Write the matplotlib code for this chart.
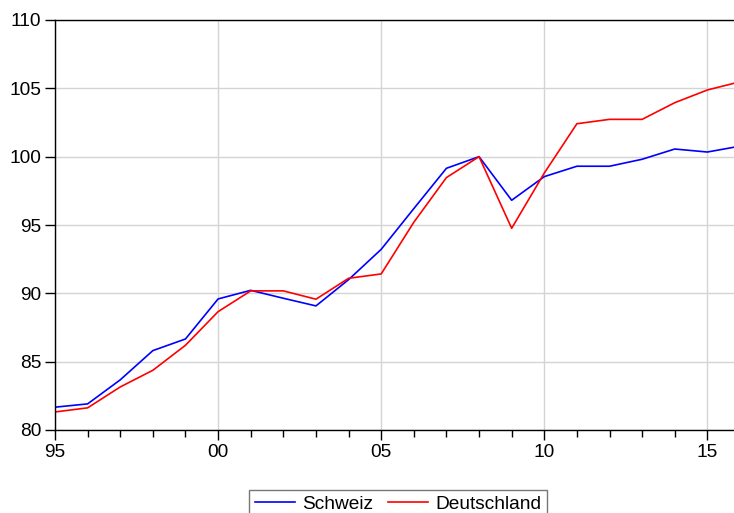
import numpy as np
import matplotlib.pyplot as plt
from matplotlib.ticker import MultipleLocator, FixedLocator

plt.rcParams['font.family'] = ['Liberation Sans', 'DejaVu Sans']

# Data (index, 2008 = 100)
years = list(range(1995, 2017))
schweiz = [81.67, 81.91, 83.67, 85.81, 86.66, 89.59, 90.22, 89.64, 89.08, 91.0,
           93.22, 96.2, 99.15, 100.0, 96.81, 98.54, 99.3, 99.3, 99.81, 100.56,
           100.34, 100.77]
deutschland = [81.32, 81.62, 83.15, 84.37, 86.2, 88.66, 90.18, 90.18, 89.57, 91.1,
               91.42, 95.2, 98.47, 100.0, 94.76, 98.8, 102.41, 102.73, 102.73, 103.95,
               104.88, 105.48]
tick_years = [1995, 2000, 2005, 2010, 2015]
tick_labels = ["95", "00", "05", "10", "15"]

W, H = 734, 513
fs = 13.8
fig = plt.figure(figsize=(W / 100, H / 100), dpi=100)
# axes spans from x=55 to x=740 (right end beyond the figure), y=20 to y=430
ax = fig.add_axes([55 / W, (H - 430) / H, (740 - 55) / W, (430 - 20) / H])

ax.plot(years, schweiz, color="#0000ff", lw=1.2, label="Schweiz")
ax.plot(years, deutschland, color="#ff0000", lw=1.2, label="Deutschland")

ax.set_xlim(1995, 2016)
ax.set_ylim(80, 110)
ax.xaxis.set_major_locator(FixedLocator(tick_years))
ax.set_xticklabels(tick_labels)
ax.xaxis.set_minor_locator(MultipleLocator(1))
ax.yaxis.set_major_locator(MultipleLocator(5))

ax.grid(True, which="major", color="#d4d4d4", lw=1.0)
ax.set_axisbelow(True)

for s in ["left", "bottom", "top"]:
    ax.spines[s].set_color("black")
    ax.spines[s].set_linewidth(1.0)
ax.spines["right"].set_visible(False)

ax.tick_params(axis="both", which="major", direction="out", length=7, width=1,
               labelsize=fs, colors="black", pad=3)
ax.tick_params(axis="x", which="minor", direction="out", length=5, width=1)
ax.tick_params(axis="y", which="minor", left=False)

leg = ax.legend(loc="upper center", bbox_to_anchor=((398 - 55) / (740 - 55), -60 / 410),
                ncol=2, fontsize=fs, frameon=True, fancybox=False,
                edgecolor="#555555", handlelength=2.1, columnspacing=0.75,
                handletextpad=0.37, borderpad=0.3, borderaxespad=0)
leg.get_frame().set_linewidth(1.0)

fig.savefig("out.png", dpi=100)
